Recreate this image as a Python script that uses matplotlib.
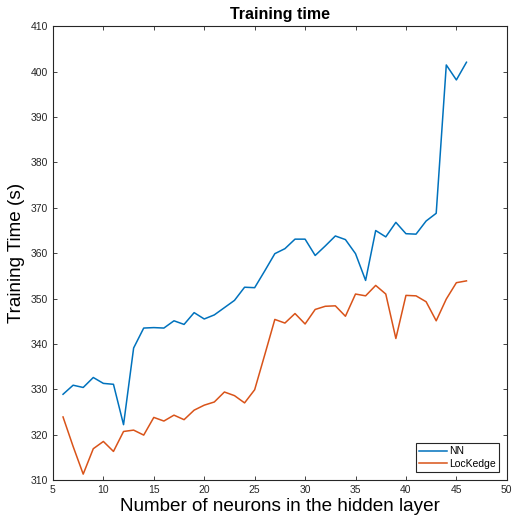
import numpy as np
import matplotlib.pyplot as plt

plt.rcParams['font.family'] = ['Liberation Sans', 'DejaVu Sans']

neurons = list(range(6, 47))
nn_time = [328.9, 330.9, 330.4, 332.6, 331.3, 331.1, 322.2, 339.1, 343.5, 343.6,
           343.5, 345.1, 344.3, 346.9, 345.5, 346.4, 348.0, 349.6, 352.5, 352.4,
           356.1, 359.9, 361.0, 363.1, 363.1, 359.5, 361.6, 363.8, 363.0, 359.9,
           354.0, 365.0, 363.6, 366.8, 364.3, 364.2, 367.1, 368.8, 401.5, 398.2,
           402.1]
lock_time = [323.9, 317.4, 311.3, 316.9, 318.5, 316.3, 320.7, 321.0, 319.9, 323.8,
             323.0, 324.3, 323.3, 325.4, 326.5, 327.2, 329.4, 328.6, 327.0, 329.9,
             337.6, 345.4, 344.6, 346.7, 344.4, 347.6, 348.3, 348.4, 346.1, 351.0,
             350.6, 352.9, 351.0, 341.2, 350.7, 350.6, 349.3, 345.1, 349.9, 353.5,
             353.9]

fig = plt.figure(figsize=(5.14, 5.25), dpi=100)
ax = fig.add_axes([0.103, 0.0857, 0.883, 0.864])

ax.plot(neurons, nn_time, color='#0072BD', lw=1.1, label='NN')
ax.plot(neurons, lock_time, color='#D95319', lw=1.1, label='LocKedge')

ax.set_xlim(5, 50)
ax.set_ylim(310, 410)
ax.set_xticks(np.arange(5, 51, 5))
ax.set_yticks(np.arange(310, 411, 10))
ax.tick_params(direction='in', top=True, right=True, labelsize=7.5,
               length=3, width=0.6, colors='#262626', labelcolor='#262626')
for s in ax.spines.values():
    s.set_linewidth(0.8)
    s.set_color('#262626')

ax.set_title('Training time', fontsize=11.5, fontweight='bold', pad=5)
ax.set_xlabel('Number of neurons in the hidden layer', fontsize=13.6, labelpad=2)
ax.set_ylabel('Training Time (s)', fontsize=13.6, labelpad=4)

leg = ax.legend(loc='lower right', fontsize=7.5, fancybox=False, framealpha=1,
                edgecolor='#262626', handlelength=2.7, borderpad=0.3,
                labelspacing=0.25, handletextpad=0.2, borderaxespad=0.75)
leg.get_frame().set_linewidth(0.8)

fig.savefig('out.png', dpi=100)
